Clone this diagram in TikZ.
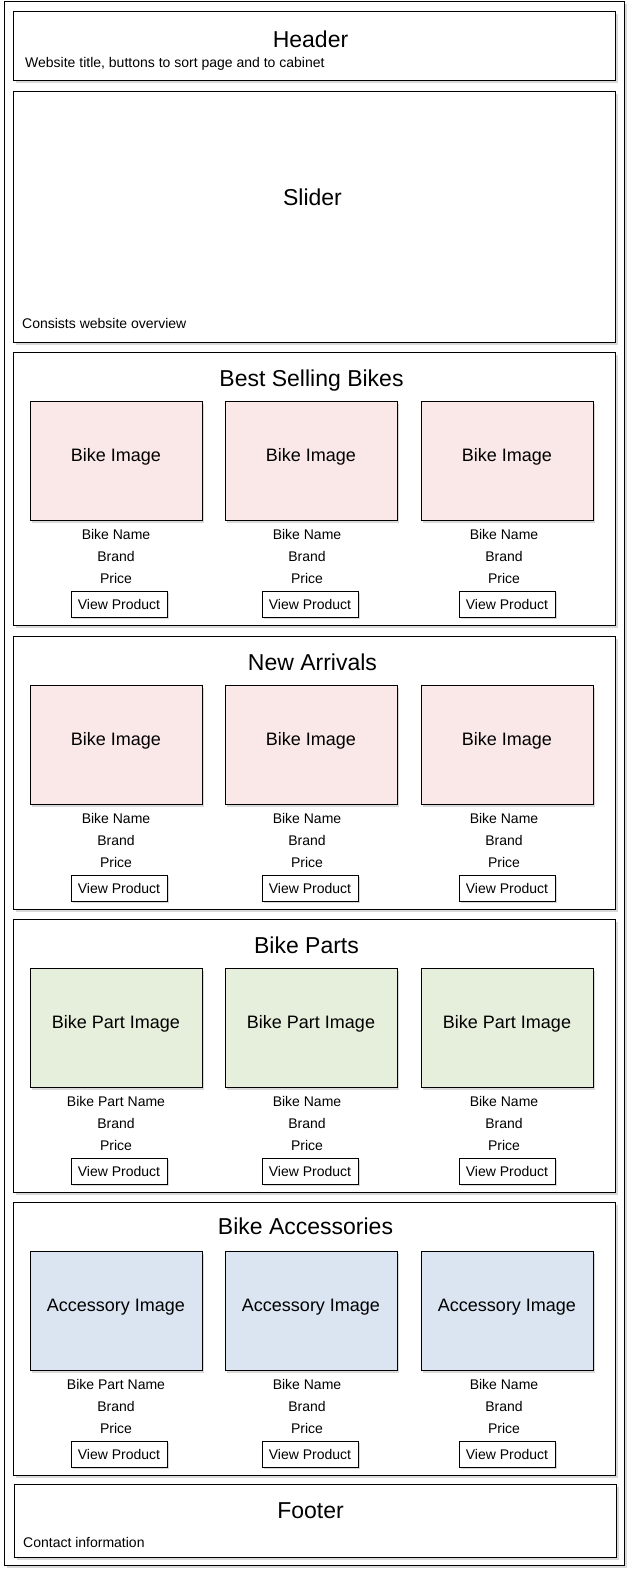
\documentclass[tikz,border=0pt]{standalone}
\usepackage{fontspec}
\setmainfont{Liberation Sans}
\usetikzlibrary{positioning, shadows}
\definecolor{pinkfill}{HTML}{FAE8E8}
\definecolor{greenfill}{HTML}{E6EFDC}
\definecolor{bluefill}{HTML}{DAE5F1}
\tikzset{
  soft/.style={drop shadow={shadow xshift=2pt, shadow yshift=-2pt, opacity=0.15, fill=black}},
  panel/.style={rectangle, draw, fill=white, line width=1pt, soft, anchor=north west, inner sep=0pt},
  imgbox/.style={rectangle, draw, line width=1pt, soft, minimum width=172pt, minimum height=119pt, inner sep=0pt, text height=13pt, text depth=12pt, font=\fontsize{18}{21}\selectfont},
  cardtext/.style={anchor=base, inner sep=0pt, font=\fontsize{14}{16}\selectfont},
  btn/.style={rectangle, draw, fill=white, line width=1pt, soft, minimum width=96pt, minimum height=26pt, inner sep=0pt, font=\fontsize{14}{16}\selectfont},
  heading/.style={anchor=base, inner sep=0pt, font=\fontsize{23}{27}\selectfont},
  note/.style={anchor=base west, inner sep=0pt, font=\fontsize{14}{16}\selectfont}
}

\begin{document}
\begin{tikzpicture}[x=1pt, y=-1pt]
\useasboundingbox (0,0) rectangle (629,1574);

% Page frame
\node[panel, minimum width=620pt, minimum height=1564pt] (page) at (4,1) {};

% Header
\node[panel, minimum width=602pt, minimum height=69pt] (header) at (13,11) {};
\node[heading] (headertitle) at ([xshift=-4pt, yshift=-36pt]header.north) {Header};
\node[note] (headernote) at (25,67) {Website title, buttons to sort page and to cabinet};

% Slider
\node[panel, minimum width=602pt, minimum height=251pt] (slider) at (13,91) {};
\node[heading] (slidertitle) at ([xshift=-2pt, yshift=-114pt]slider.north) {Slider};
\node[note] (slidernote) at (22,328) {Consists website overview};

% Best selling bikes
\node[panel, minimum width=602pt, minimum height=273pt] (best) at (13,352) {};
\node[heading] (besttitle) at ([xshift=-3pt, yshift=-34pt]best.north) {Best Selling Bikes};
\foreach \i/\cx/\tx/\bx in {1/116/116/119, 2/311/307/310, 3/507/504/507} {
  \node[imgbox, fill=pinkfill] (bestimg\i) at (\cx,352+109) {Bike Image};
  \node[cardtext] (bestname\i) at (\tx,352+187) {Bike Name};
  \node[cardtext] (bestbrand\i) at (\tx,352+209) {Brand};
  \node[cardtext] (bestprice\i) at (\tx,352+231) {Price};
  \node[btn] (bestbtn\i) at (\bx,352+252) {View Product};
}

% New arrivals
\node[panel, minimum width=602pt, minimum height=273pt] (arrivals) at (13,636) {};
\node[heading] (arrivalstitle) at ([xshift=-2pt, yshift=-34pt]arrivals.north) {New Arrivals};
\foreach \i/\cx/\tx/\bx in {1/116/116/119, 2/311/307/310, 3/507/504/507} {
  \node[imgbox, fill=pinkfill] (newimg\i) at (\cx,636+109) {Bike Image};
  \node[cardtext] (newname\i) at (\tx,636+187) {Bike Name};
  \node[cardtext] (newbrand\i) at (\tx,636+209) {Brand};
  \node[cardtext] (newprice\i) at (\tx,636+231) {Price};
  \node[btn] (newbtn\i) at (\bx,636+252) {View Product};
}

% Bike parts
\node[panel, minimum width=602pt, minimum height=273pt] (parts) at (13,919) {};
\node[heading] (partstitle) at ([xshift=-8pt, yshift=-34pt]parts.north) {Bike Parts};
\foreach \i/\cx/\tx/\bx/\nm in {1/116/116/119/Bike Part Name, 2/311/307/310/Bike Name, 3/507/504/507/Bike Name} {
  \node[imgbox, fill=greenfill] (partimg\i) at (\cx,919+109) {Bike Part Image};
  \node[cardtext] (partname\i) at (\tx,919+187) {\nm};
  \node[cardtext] (partbrand\i) at (\tx,919+209) {Brand};
  \node[cardtext] (partprice\i) at (\tx,919+231) {Price};
  \node[btn] (partbtn\i) at (\bx,919+252) {View Product};
}

% Bike accessories
\node[panel, minimum width=602pt, minimum height=273pt] (accessories) at (13,1202) {};
\node[heading] (accessoriestitle) at ([xshift=-9pt, yshift=-32pt]accessories.north) {Bike Accessories};
\foreach \i/\cx/\tx/\bx/\nm in {1/116/116/119/Bike Part Name, 2/311/307/310/Bike Name, 3/507/504/507/Bike Name} {
  \node[imgbox, fill=bluefill] (accimg\i) at (\cx,1202+109) {Accessory Image};
  \node[cardtext] (accname\i) at (\tx,1202+187) {\nm};
  \node[cardtext] (accbrand\i) at (\tx,1202+209) {Brand};
  \node[cardtext] (accprice\i) at (\tx,1202+231) {Price};
  \node[btn] (accbtn\i) at (\bx,1202+252) {View Product};
}

% Footer
\node[panel, minimum width=602pt, minimum height=73pt] (footer) at (14,1484) {};
\node[heading] (footertitle) at ([xshift=-5pt, yshift=-34pt]footer.north) {Footer};
\node[note] (footernote) at (23,1547) {Contact information};

\end{tikzpicture}
\end{document}
